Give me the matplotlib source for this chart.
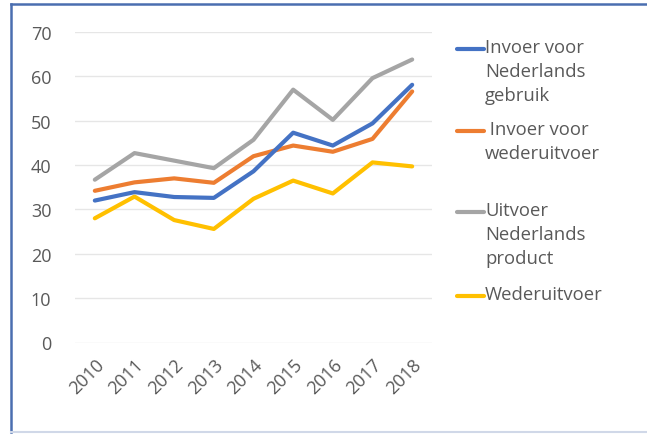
import matplotlib
matplotlib.use("Agg")
import matplotlib.pyplot as plt
from matplotlib.lines import Line2D

plt.rcParams['font.family'] = ['Open Sans', 'DejaVu Sans']

years = ["2010", "2011", "2012", "2013", "2014", "2015", "2016", "2017", "2018"]
invoer_nl = [32.0, 33.9, 32.8, 32.6, 38.6, 47.3, 44.4, 49.4, 58.1]
invoer_weder = [34.2, 36.1, 37.0, 36.0, 42.0, 44.4, 43.0, 45.9, 56.6]
uitvoer_nl = [36.7, 42.7, 41.0, 39.3, 45.7, 57.0, 50.2, 59.6, 63.8]
wederuitvoer = [28.0, 32.9, 27.6, 25.6, 32.4, 36.5, 33.6, 40.6, 39.7]

series = [invoer_nl, invoer_weder, uitvoer_nl, wederuitvoer]
labels = ["Invoer voor\nNederlands\ngebruik", " Invoer voor\nwederuitvoer",
          "Uitvoer\nNederlands\nproduct", "Wederuitvoer"]
colors = ["#4472C4", "#ED7D31", "#A5A5A5", "#FFC000"]
yticks = [0, 10, 20, 30, 40, 50, 60, 70]

W, H = 647, 435
fig = plt.figure(figsize=(W / 100, H / 100), dpi=100)
ax = fig.add_axes([75 / W, 1 - 343.5 / H, (432 - 75) / W, (343.5 - 33) / H])

x = list(range(len(years)))
order = [2, 3, 1, 0]
for k, i in enumerate(order):
    ax.plot(x, series[i], color=colors[i], lw=3.0, solid_capstyle='round',
            solid_joinstyle='round', zorder=3 + k)

ax.set_xlim(-0.5, len(years) - 0.5)
ax.set_ylim(0, 70)
ax.set_yticks(yticks)
ax.set_yticklabels([str(v) for v in yticks])
ax.set_xticks(x)
ax.set_xticklabels(years, rotation=45, ha='right', rotation_mode='anchor')
ax.grid(axis='y', color='#E6E6E6', lw=1)
ax.set_axisbelow(True)
for s in ax.spines.values():
    s.set_visible(False)
ax.tick_params(axis='y', length=0, pad=17, labelsize=13, labelcolor='#595959')
ax.tick_params(axis='x', length=0, pad=9, labelsize=13, labelcolor='#595959')

# legend (manual, top-aligned handles like Excel)
leg_tops = [50, 132, 213, 297]
for lbl, col, yc in zip(labels, colors, leg_tops):
    fig.add_artist(Line2D([457 / W, 484 / W], [1 - yc / H, 1 - yc / H],
                          color=col, lw=3.0, solid_capstyle='round'))
    fig.text(485 / W, 1 - (yc - 11) / H, lbl, ha='left', va='top',
             fontsize=13.3, color='#595959', linespacing=1.42)

# outer frame: dark left and top, light bottom
fig.add_artist(Line2D([10.5 / W, 10.5 / W], [1 - 433 / H, 1 - 5 / H],
                      color='#4A6EB0', lw=1.8))
fig.add_artist(Line2D([10.5 / W, 1], [1 - 5 / H, 1 - 5 / H],
                      color='#4A6EB0', lw=1.8))
fig.add_artist(Line2D([10.5 / W, 1], [1 - 432.5 / H, 1 - 432.5 / H],
                      color='#D0D8E8', lw=1.5))

fig.savefig("out.png", dpi=100)
